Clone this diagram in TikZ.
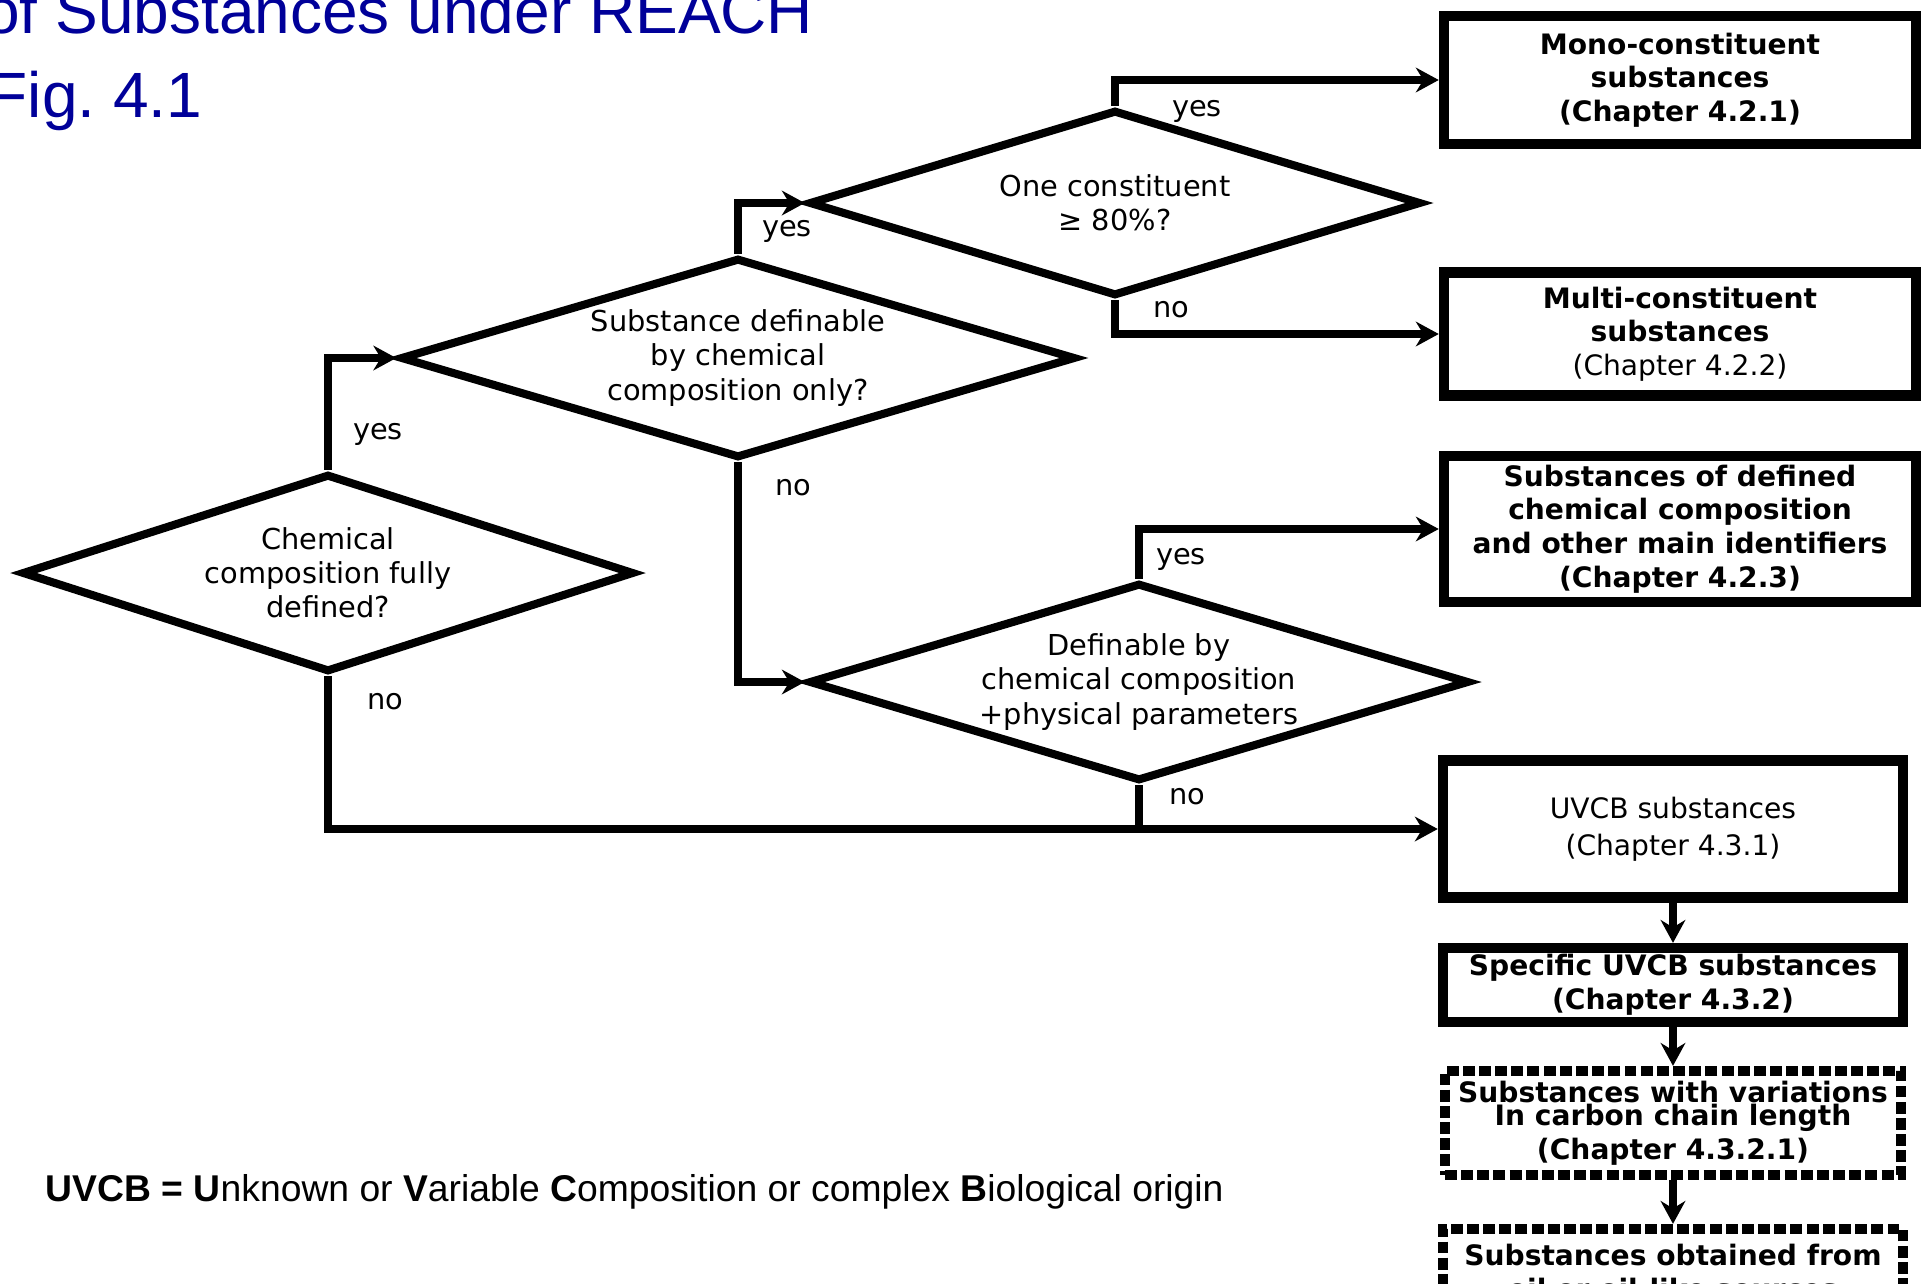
\documentclass[tikz,border=0pt]{standalone}
\usepackage{fontspec}
\setmainfont{DejaVu Sans}
\newfontfamily\arialfont{Liberation Sans}
\usetikzlibrary{shapes.geometric,arrows.meta}
\definecolor{titleblue}{RGB}{0,0,153}

\begin{document}
\begin{tikzpicture}[x=0.01cm,y=-0.01cm,
    question/.style={diamond,draw,line width=2.3pt,inner sep=0pt,align=center,
      font=\fontsize{8.2}{9.7}\selectfont},
    result/.style={draw,line width=2.9pt,inner sep=0pt,align=center,
      font=\fontsize{8}{9.6}\selectfont\bfseries},
    dashresult/.style={result,dash pattern=on 3.4pt off 1.2pt},
    answer/.style={inner sep=0pt,font=\fontsize{8.2}{9.7}\selectfont},
    arr/.style={-{Stealth[length=6.5pt,width=7pt]},line width=2.3pt}]
    \useasboundingbox (0,0) rectangle (1929,1284);
    \clip (0,0) rectangle (1929,1284);
    % title
    \node[anchor=base east,inner sep=0pt,text=titleblue,font=\arialfont\fontsize{18.2}{20}\selectfont] (title) at (814,33) {of Substances under REACH};
    \node[anchor=base west,inner sep=0pt,text=titleblue,font=\arialfont\fontsize{18.2}{20}\selectfont] (fig) at (-12,117) {Fig.\ 4.1};
    % questions
    \node[question,shape aspect=3.13,minimum width=6.12cm,minimum height=1.98cm] (d1) at (328,573) {Chemical\\ composition fully\\ defined?};
    \node[question,shape aspect=3.41,minimum width=6.75cm,minimum height=2.0cm] (d2) at (738,358) {Substance definable\\ by chemical\\ composition only?};
    \node[question,shape aspect=3.32,minimum width=6.12cm,minimum height=1.86cm] (d3) at (1115,203) {One constituent\\ ≥ 80\%?};
    \node[question,shape aspect=3.37,minimum width=6.6cm,minimum height=1.98cm] (d4) at (1139,682) {Definable by\\ chemical composition\\ +physical parameters};
    % results
    \node[result,minimum width=4.72cm,minimum height=1.28cm] (b1) at (1680,80) {Mono-constituent\\ substances\\ (Chapter 4.2.1)};
    \node[result,minimum width=4.72cm,minimum height=1.23cm] (b2) at (1680,334) {Multi-constituent\\ substances\\ {\mdseries (Chapter 4.2.2)}};
    \node[result,minimum width=4.72cm,minimum height=1.46cm] (b3) at (1680,529) {Substances of defined\\ chemical composition\\ and other main identifiers\\ (Chapter 4.2.3)};
    \node[result,minimum width=4.6cm,minimum height=1.37cm,font=\fontsize{8}{9.6}\selectfont] (b4) at (1673,829) {UVCB substances\\[1pt] (Chapter 4.3.1)};
    \node[result,minimum width=4.6cm,minimum height=0.74cm] (b5) at (1673,985) {Specific UVCB substances\\ (Chapter 4.3.2)};
    \node[dashresult,minimum width=4.56cm,minimum height=1.04cm] (b6) at (1673,1123) {Substances with variations\\[-3pt] In carbon chain length\\ (Chapter 4.3.2.1)};
    \node[dashresult,minimum width=4.6cm,minimum height=0.86cm] (b7) at (1673,1272) {Substances obtained from\\ oil or oil-like sources};
    % connectors
    \draw[arr] (d1.north) |- (d2.west);
    \draw[arr] (d1.south) |- (b4.west);
    \draw[arr] (d2.north) |- (d3.west);
    \draw[arr] (d2.south) |- (d4.west);
    \draw[arr] (d3.north) |- (b1.west);
    \draw[arr] (d3.south) |- (b2.west);
    \draw[arr] (d4.north) |- (b3.west);
    \draw[line width=2.3pt] (d4.south) -- (d4.south |- b4.west);
    \draw[arr] (b4.south) -- (b5.north);
    \draw[arr] (b5.south) -- (b6.north);
    \draw[arr] (b6.south) -- (b7.north);
    % answers
    \node[answer] (yes1) at (378,434) {yes};
    \node[answer] (no1) at (385,702) {no};
    \node[answer] (yes2) at (787,231) {yes};
    \node[answer] (no2) at (793,488) {no};
    \node[answer] (yes3) at (1197,111) {yes};
    \node[answer] (no3) at (1171,310) {no};
    \node[answer] (yes4) at (1181,559) {yes};
    \node[answer] (no4) at (1187,797) {no};
    % footnote
    \node[anchor=base west,inner sep=0pt,font=\arialfont\fontsize{10.6}{12}\selectfont] (note) at (45,1201) {\textbf{UVCB = U}nknown or \textbf{V}ariable \textbf{C}omposition or complex \textbf{B}iological origin};
\end{tikzpicture}
\end{document}
